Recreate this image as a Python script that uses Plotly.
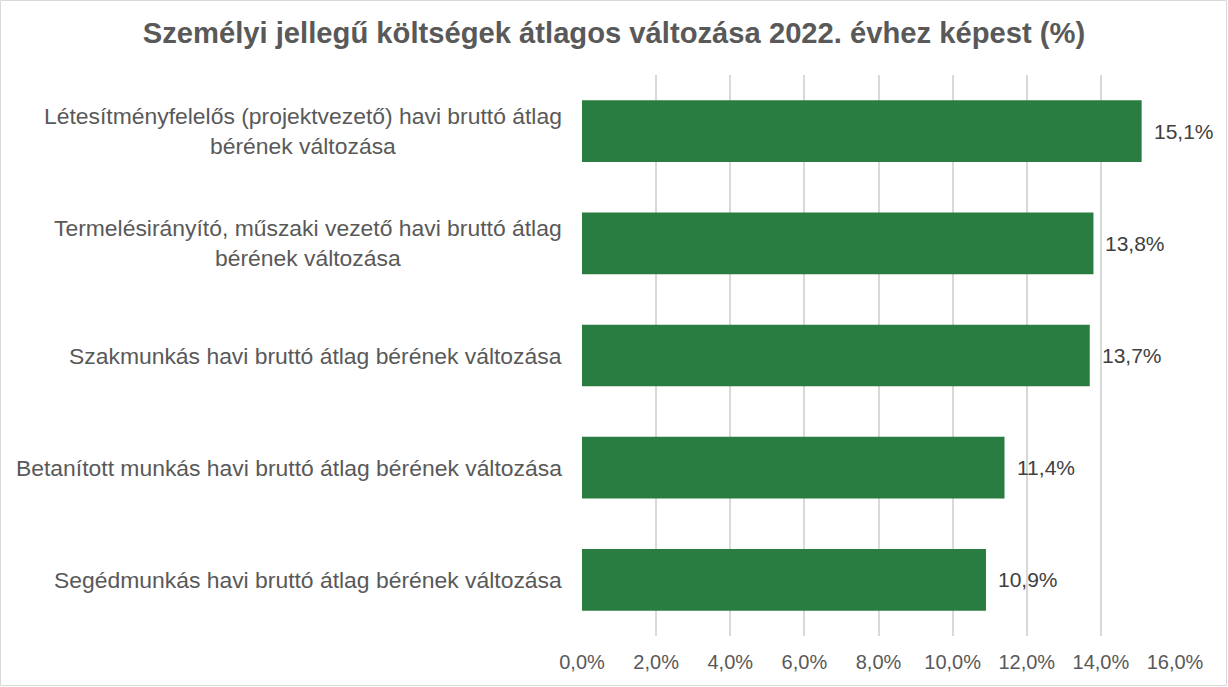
import plotly.graph_objects as go

categories = [
    "Létesítményfelelős (projektvezető) havi bruttó átlag<br>bérének változása",
    "Termelésirányító, műszaki vezető havi bruttó átlag<br>bérének változása",
    "Szakmunkás havi bruttó átlag bérének változása",
    "Betanított munkás havi bruttó átlag bérének változása",
    "Segédmunkás havi bruttó átlag bérének változása",
]
values = [15.1, 13.8, 13.7, 11.4, 10.9]
tick_values = [0, 2, 4, 6, 8, 10, 12, 14, 16]

W, H = 1228, 687
ML, MR, MT, MB = 582, 53, 75, 51
FONT = "Liberation Sans, Arial, sans-serif"


def pct(v):
    return f"{v:.1f}%".replace(".", ",")


fig = go.Figure()
fig.add_trace(go.Bar(
    y=categories, x=values, orientation="h",
    marker=dict(color="#2A7D40", line=dict(width=0)),
    width=0.55,
    hoverinfo="skip",
))

annotations = []
for c in categories:
    annotations.append(dict(
        x=0, xref="paper", y=c, yref="y",
        text=c, showarrow=False, xanchor="right", align="center",
        xshift=-18, font=dict(family=FONT, size=22.9, color="#595959"),
    ))
for c, v in zip(categories, values):
    annotations.append(dict(
        x=v, xref="x", y=c, yref="y",
        text=pct(v), showarrow=False, xanchor="left", align="left",
        xshift=10, font=dict(family=FONT, size=21, color="#404040"),
    ))

pw = (W - ML - MR)
ph = (H - MT - MB)
shapes = [dict(
    type="rect", xref="paper", yref="paper",
    x0=(-ML + 0.5) / pw, x1=(W - ML - 1.5) / pw,
    y0=(-MB + 1.5) / ph, y1=1 + (MT - 0.5) / ph,
    line=dict(color="#D9D9D9", width=1), fillcolor="rgba(0,0,0,0)",
)]

fig.update_layout(
    width=W, height=H,
    margin=dict(l=ML, r=MR, t=MT, b=MB, pad=0),
    paper_bgcolor="white", plot_bgcolor="white",
    title=dict(
        text="<b>Személyi jellegű költségek átlagos változása 2022. évhez képest (%)</b>",
        x=0.5, xref="container", xanchor="center",
        y=1 - 33 / H, yref="container", yanchor="middle",
        font=dict(family=FONT, size=29.2, color="#595959"),
    ),
    xaxis=dict(
        range=[0, 16], tickvals=tick_values,
        ticktext=[pct(v) for v in tick_values],
        showgrid=True, gridcolor="#D9D9D9", gridwidth=1.5,
        zeroline=False, showline=False, ticks="", ticklen=0,
        ticklabelstandoff=12,
        tickfont=dict(family=FONT, size=20, color="#595959"),
        fixedrange=True,
    ),
    yaxis=dict(
        categoryorder="array", categoryarray=categories[::-1],
        showticklabels=False, showgrid=False, zeroline=False, showline=False,
        range=[-0.5, len(categories) - 0.5], fixedrange=True,
    ),
    annotations=annotations,
    shapes=shapes,
    showlegend=False,
)

fig.write_html(
    "out.html",
    config={"displayModeBar": False},
    post_script="document.body.style.margin='0';document.body.style.padding='0';",
)
